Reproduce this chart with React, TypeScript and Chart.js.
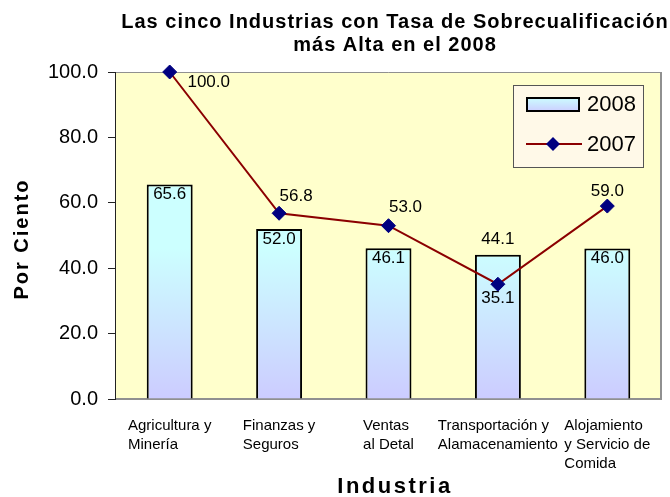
import React, { useEffect, useRef } from "react";
import { Chart, registerables } from "chart.js";

Chart.register(...registerables);

// ---- data ----
const categories: string[][] = [
  ["Agricultura y", "Minería"],
  ["Finanzas y", "Seguros"],
  ["Ventas", "al Detal"],
  ["Transportación y", "Alamacenamiento"],
  ["Alojamiento", "y Servicio de", "Comida"],
];
const values2008 = [65.6, 52.0, 46.1, 44.1, 46.0];
const values2007 = [100.0, 56.8, 53.0, 35.1, 59.0];
const yTickValues = [0, 20, 40, 60, 80, 100];
const titleLines = [
  "Las cinco Industrias con Tasa de Sobrecualificación",
  "más Alta en el 2008",
];
const yTitle = "Por Ciento";
const xTitle = "Industria";
const seriesNames = ["2008", "2007"];

// ---- style ----
const FONT = "'Liberation Sans', Arial, sans-serif";
const barLabelInside = [true, true, true, false, true];
const lineLabelOffsets = [
  [39, 10],
  [17, -17],
  [17, -18],
  [0, 14],
  [0, -15],
];
const LINE_COLOR = "#8B0000";
const POINT_COLOR = "#000080";

function barGradient(ctx: CanvasRenderingContext2D, top: number, bottom: number) {
  if (!isFinite(top) || !isFinite(bottom) || top === bottom) return "#CCE6FF";
  const g = ctx.createLinearGradient(0, top, 0, bottom);
  g.addColorStop(0, "#CCFFFF");
  g.addColorStop(1, "#CCCCFF");
  return g;
}

const decorPlugin = {
  id: "decor",
  beforeDraw(chart: any) {
    const { ctx, chartArea: a, width, height } = chart;
    ctx.save();
    ctx.fillStyle = "#ffffff";
    ctx.fillRect(0, 0, width, height);
    ctx.fillStyle = "#FFFFCC";
    ctx.fillRect(a.left, a.top, a.right - a.left, a.bottom - a.top);
    ctx.strokeStyle = "#909090";
    ctx.lineWidth = 1;
    ctx.beginPath();
    ctx.moveTo(a.left, a.top + 0.5);
    ctx.lineTo(a.right - 0.5, a.top + 0.5);
    ctx.stroke();
    ctx.lineWidth = 2;
    ctx.beginPath();
    ctx.moveTo(a.right - 1, a.top);
    ctx.lineTo(a.right - 1, a.bottom);
    ctx.moveTo(a.left, a.bottom);
    ctx.lineTo(a.right, a.bottom);
    ctx.stroke();
    ctx.restore();
  },
  beforeDatasetsDraw(chart: any) {
    const meta = chart.getDatasetMeta(0);
    meta.data.forEach((el: any) => {
      el.options.backgroundColor = barGradient(chart.ctx, el.y, el.base);
    });
  },
  afterDraw(chart: any) {
    const { ctx } = chart;
    const xs = chart.scales.x;
    const barMeta = chart.getDatasetMeta(0);
    const lineMeta = chart.getDatasetMeta(1);
    ctx.save();
    ctx.fillStyle = "#000";
    // bar labels
    ctx.font = `17px ${FONT}`;
    ctx.textAlign = "center";
    ctx.textBaseline = "middle";
    barMeta.data.forEach((el: any, i: number) => {
      const txt = values2008[i].toFixed(1);
      const y = barLabelInside[i] ? el.y + 10 : el.y - 15;
      ctx.fillText(txt, el.x, y);
    });
    // line labels
    lineMeta.data.forEach((el: any, i: number) => {
      const txt = values2007[i].toFixed(1);
      const [dx, dy] = lineLabelOffsets[i];
      ctx.fillText(txt, el.x + dx, el.y + dy);
    });

    // x category labels (left-aligned block, centered on category)
    ctx.font = `15px ${FONT}`;
    ctx.textAlign = "left";
    ctx.textBaseline = "top";
    categories.forEach((lines, i) => {
      const cx = xs.getPixelForValue(i);
      const w = Math.max(...lines.map((l) => ctx.measureText(l).width));
      lines.forEach((l, j) => {
        ctx.fillText(l, cx - w / 2, 418 + j * 19);
      });
    });

    // title
    ctx.font = `bold 20px ${FONT}`;
    (ctx as any).letterSpacing = "1px";
    ctx.textAlign = "center";
    ctx.textBaseline = "middle";
    titleLines.forEach((l, j) => ctx.fillText(l, 395, 22 + j * 23));

    // axis titles
    ctx.font = `bold 20px ${FONT}`;
    (ctx as any).letterSpacing = "2px";
    ctx.save();
    ctx.translate(22, 239);
    ctx.rotate(-Math.PI / 2);
    ctx.fillText(yTitle, 0, 0);
    ctx.restore();
    ctx.font = `bold 22px ${FONT}`;
    (ctx as any).letterSpacing = "2.5px";
    ctx.fillText(xTitle, 395, 487);
    (ctx as any).letterSpacing = "0px";

    // legend
    const lx = 513, ly = 85, lw = 130, lh = 82;
    ctx.fillStyle = "#FFF9E8";
    ctx.fillRect(lx, ly, lw, lh);
    ctx.strokeStyle = "#555";
    ctx.lineWidth = 1;
    ctx.strokeRect(lx + 0.5, ly + 0.5, lw, lh);
    // swatch 2008
    ctx.fillStyle = barGradient(ctx, 97, 112);
    ctx.fillRect(526, 97, 54, 15);
    ctx.strokeStyle = "#000";
    ctx.lineWidth = 2;
    ctx.strokeRect(527, 98, 52, 13);
    // line 2007
    ctx.strokeStyle = LINE_COLOR;
    ctx.lineWidth = 2;
    ctx.beginPath();
    ctx.moveTo(526, 144);
    ctx.lineTo(582, 144);
    ctx.stroke();
    ctx.fillStyle = POINT_COLOR;
    ctx.beginPath();
    ctx.moveTo(553, 137);
    ctx.lineTo(560, 144);
    ctx.lineTo(553, 151);
    ctx.lineTo(546, 144);
    ctx.closePath();
    ctx.fill();
    ctx.fillStyle = "#000";
    ctx.font = `22px ${FONT}`;
    ctx.textAlign = "left";
    ctx.textBaseline = "middle";
    ctx.fillText(seriesNames[0], 587, 105);
    ctx.fillText(seriesNames[1], 587, 145);
    ctx.restore();
  },
};

export default function App() {
  const ref = useRef<HTMLCanvasElement | null>(null);
  useEffect(() => {
    if (!ref.current) return;
    const chart = new Chart(ref.current, {
      type: "bar",
      data: {
        labels: categories.map((c) => c.join(" ")),
        datasets: [
          {
            type: "bar",
            label: seriesNames[0],
            data: values2008,
            order: 2,
            backgroundColor: "#CCE6FF",
            borderColor: "#000",
            borderWidth: 2,
            barPercentage: 0.42,
            categoryPercentage: 1,
          },
          {
            type: "line",
            label: seriesNames[1],
            data: values2007,
            order: 1,
            borderColor: LINE_COLOR,
            borderWidth: 2,
            pointStyle: "rectRot",
            pointRadius: 7,
            pointBackgroundColor: POINT_COLOR,
            pointBorderColor: POINT_COLOR,
            pointBorderWidth: 1,
            clip: false as any,
            tension: 0,
          },
        ],
      } as any,
      options: {
        animation: false,
        responsive: false,
        events: [],
        layout: { padding: { top: 72, right: 7, left: 0, bottom: 0 } },
        plugins: {
          legend: { display: false },
          title: { display: false },
          tooltip: { enabled: false },
        },
        scales: {
          x: {
            grid: { display: false },
            border: { display: false },
            ticks: { display: false },
            afterFit: (s: any) => {
              s.height = 98;
            },
          },
          y: {
            min: 0,
            max: 100,
            afterBuildTicks: (s: any) => {
              s.ticks = yTickValues.map((v) => ({ value: v }));
            },
            grid: {
              drawOnChartArea: false,
              drawTicks: true,
              tickLength: 7,
              color: "#222",
            },
            border: { display: true, color: "#222", width: 1 },
            ticks: {
              color: "#000",
              font: { family: FONT, size: 20 },
              padding: 10,
              callback: (v: any) => Number(v).toFixed(1),
            },
            afterFit: (s: any) => {
              s.width = 115;
            },
          },
        },
      } as any,
      plugins: [decorPlugin],
    });
    return () => chart.destroy();
  }, []);
  return (
    <div style={{ position: "absolute", left: 0, top: 0, width: 670, height: 497 }}>
      <canvas ref={ref} width={670} height={497} />
    </div>
  );
}
